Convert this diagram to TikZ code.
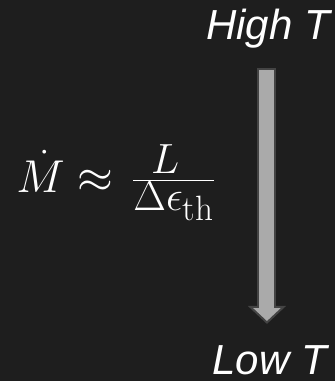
\documentclass[tikz,border=0pt]{standalone}
\usepackage{fontspec}
\newfontfamily\labelfont{Liberation Sans}
\usetikzlibrary{arrows.meta}
\definecolor{bgdark}{HTML}{1E1E1E}
\definecolor{shaftgray}{HTML}{AAAAAA}
\definecolor{edgegray}{HTML}{444444}
\tikzset{
  templabel/.style={font=\labelfont\itshape\fontsize{42}{46}\selectfont, text=white, inner sep=0pt},
  formula/.style={font=\Huge, text=white, inner sep=0pt, scale=1.85, transform shape},
}
\begin{document}
\begin{tikzpicture}[x=1pt, y=1pt]
  % background
  \fill[bgdark] (0,0) rectangle (335,381);
  % temperature labels
  \node[templabel, anchor=base east] (high) at (330,341) {High T};
  \node[templabel, anchor=base east] (low) at (327,6) {Low T};
  % mass loss rate
  \node[formula, anchor=base west] (mdot) at (16,189)
    {$\dot M \approx \mkern2mu \frac{\scalebox{1.1}{$\scriptstyle L$}}{\scalebox{1.1}{$\scriptstyle\Delta\epsilon_{\mathrm{th}}$}}$};
  % gradient arrow
  \coordinate (atop) at ([xshift=-1pt, yshift=-19pt]high.south);
  \coordinate (atip) at (atop |- low.north);
  \draw[edgegray, line width=19pt, -{Triangle[width=38pt, length=18pt, line width=2pt, fill=shaftgray]}]
    (atop) -- ([yshift=22pt]atip);
  \draw[shaftgray, line width=15pt, shorten <=2pt, shorten >=10pt] (atop) -- ([yshift=22pt]atip);
\end{tikzpicture}
\end{document}
